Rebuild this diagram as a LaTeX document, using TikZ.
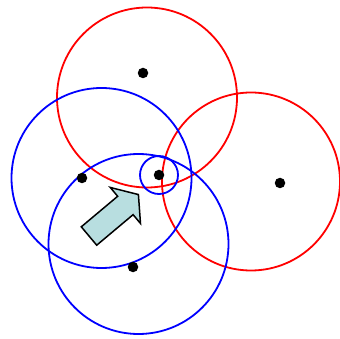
\documentclass[tikz,border=0pt]{standalone}
\usepackage{tikz}
\usetikzlibrary{positioning}
\definecolor{flecha}{RGB}{184,222,224}
\tikzset{
  rojo/.style={draw=red,line width=1.8pt},
  azul/.style={draw=blue,line width=1.8pt},
  pt/.style={circle,fill=black,inner sep=0pt,minimum size=10.5pt},
  bloque/.style={fill=flecha,draw=black,line width=1.5pt,line join=miter}
}
\begin{document}
\begin{tikzpicture}[x=1pt,y=-1pt]
\useasboundingbox (0,0) rectangle (340,339);
% circulos rojos
\draw[rojo] (147,97.5) circle (90);
\draw[rojo] (251,181.5) circle (89);
% circulos azules
\draw[azul] (101.5,178) circle (90);
\draw[azul] (138.5,244) circle (90);
\draw[azul] (159,175) circle (19);
% puntos
\node[pt] (A) at (143,73) {};
\node[pt] (B) at (280,183) {};
\node[pt] (C) at (82,178) {};
\node[pt] (D) at (133,267) {};
\node[pt] (E) at (159,175) {};
% flecha
\begin{scope}[shift={(89,236)},rotate=40]
\draw[bloque] (0,-12) -- (47.5,-12) -- (47.5,-23.5) -- (64.5,0) -- (47.5,23.5) -- (47.5,12) -- (0,12) -- cycle;
\end{scope}
\end{tikzpicture}
\end{document}
